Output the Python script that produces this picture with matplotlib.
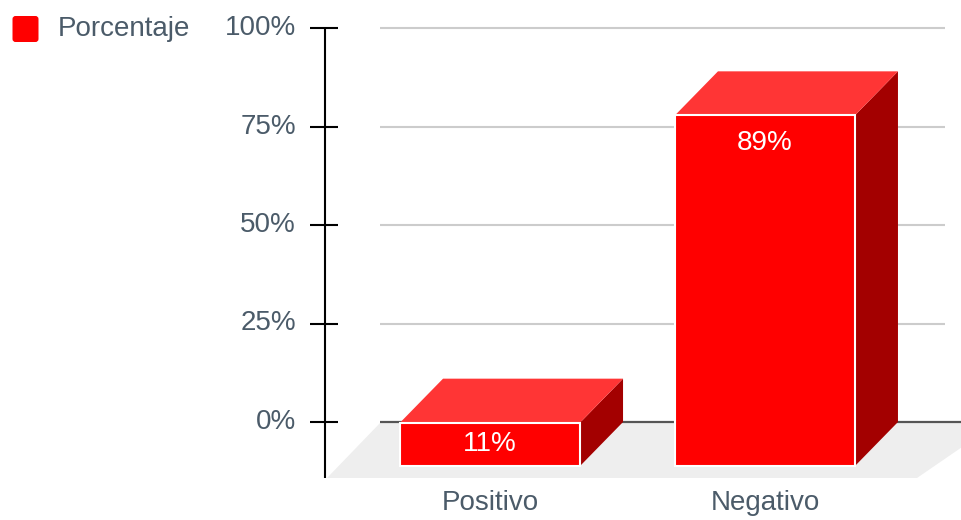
import matplotlib
matplotlib.use("Agg")
import matplotlib.pyplot as plt
from matplotlib.patches import Polygon, FancyBboxPatch

# Data
categories = ["Positivo", "Negativo"]
values = [11, 89]
value_labels = ["11%", "89%"]
tick_values = [0, 25, 50, 75, 100]
tick_labels = ["0%", "25%", "50%", "75%", "100%"]
series_name = "Porcentaje"

# Style
FRONT = "#ff0000"
TOP = "#ff3535"
SIDE = "#a30000"
TEXT = "#4b5b69"
FLOOR = "#eeeeee"
GRID = "#cccccc"
FONT = "Liberation Sans"
FS = 20

W, H, DPI = 961, 520, 100
fig = plt.figure(figsize=(W / DPI, H / DPI), dpi=DPI)

# Plot area (front plane) in pixels
ax_left, ax_width = 327, 590
ax_bottom, ax_height = 54, 394
ax = fig.add_axes([ax_left / W, ax_bottom / H, ax_width / W, ax_height / H])
xmin, xmax = -0.593, 1.553
ax.set_xlim(xmin, xmax)
ax.set_ylim(0, 100)
ax.axis("off")

px_x = ax_width / (xmax - xmin)   # pixels per x unit
px_y = ax_height / 100.0          # pixels per y unit


def xd(px):
    """figure pixel column -> x data"""
    return (px - ax_left) / px_x + xmin


# 3D depth in data units
dx = 43 / px_x
dy = 44 / px_y
fdx = 54 / px_x
fdy = 56 / px_y
floor_drop = 12 / px_y

# Floor
floor = Polygon([(xmin, -floor_drop), (xmax, -floor_drop),
                 (xmax + fdx + 0.1, -floor_drop + fdy), (xmin + fdx, -floor_drop + fdy)],
                closed=True, facecolor=FLOOR, edgecolor="none", clip_on=False, zorder=1)
ax.add_patch(floor)

# Gridlines on the back plane
for v in tick_values:
    if v == 0:
        ax.plot([xd(380), xd(975)], [v + dy, v + dy], color="#555555", lw=1.6,
                clip_on=False, zorder=2, solid_capstyle="butt")
    else:
        ax.plot([xd(380), xd(945)], [v + dy, v + dy], color=GRID, lw=1.5,
                clip_on=False, zorder=2, solid_capstyle="butt")

# Value axis line, ticks and labels
ax.plot([xd(324.5), xd(324.5)], [100 + dy, -floor_drop], color="black", lw=1.5,
        clip_on=False, zorder=3, solid_capstyle="butt")
for v, lab in zip(tick_values, tick_labels):
    ax.plot([xd(310), xd(338)], [v + dy, v + dy], color="black", lw=1.5,
            clip_on=False, zorder=3, solid_capstyle="butt")
    ax.text(xd(296), v + dy, lab, ha="right", va="center", fontsize=FS,
            color=TEXT, family=FONT, clip_on=False)

# 3D bars
bar_w = 180 / px_x
for i, (cat, v, lab) in enumerate(zip(categories, values, value_labels)):
    x0, x1 = i - bar_w / 2, i + bar_w / 2
    side = Polygon([(x1, 0), (x1 + dx, dy), (x1 + dx, v + dy), (x1, v)],
                   closed=True, facecolor=SIDE, edgecolor="none", zorder=4, clip_on=False)
    top = Polygon([(x0, v), (x1, v), (x1 + dx, v + dy), (x0 + dx, v + dy)],
                  closed=True, facecolor=TOP, edgecolor="none", zorder=4, clip_on=False)
    front = Polygon([(x0, 0), (x1, 0), (x1, v), (x0, v)],
                    closed=True, facecolor=FRONT, edgecolor="white", lw=1.5,
                    zorder=5, clip_on=False)
    for p in (side, top, front):
        ax.add_patch(p)
    ly = max(v / 2, v - 28 / px_y)
    ax.text(i, ly, lab, ha="center", va="center", fontsize=FS, color="white",
            family=FONT, zorder=6, clip_on=False)
    ax.text(i, -37 / px_y, cat, ha="center", va="center", fontsize=FS,
            color=TEXT, family=FONT, clip_on=False)

# Legend
fig.patches.append(FancyBboxPatch((12.5, H - 42), 26, 26, boxstyle="round,pad=0,rounding_size=3",
                                  transform=None, facecolor=FRONT, edgecolor="none"))
fig.text(58 / W, 1 - 29 / H, series_name, ha="left", va="center", fontsize=FS,
         color=TEXT, family=FONT)

fig.savefig("out.png", dpi=DPI)
